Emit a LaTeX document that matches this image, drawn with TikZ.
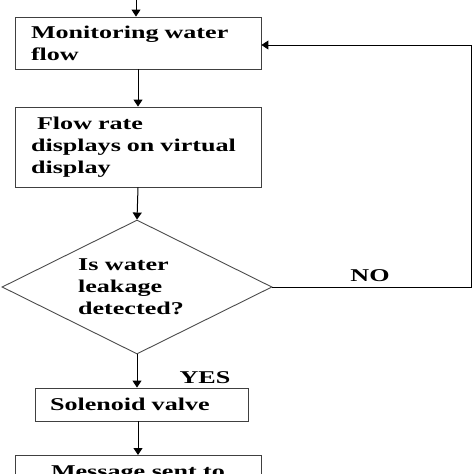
\documentclass[tikz,border=0pt]{standalone}
\usepackage{fontspec}
\setmainfont{Liberation Serif}[FakeStretch=1.45]
\usetikzlibrary{shapes.geometric,arrows.meta}
\begin{document}
\begin{tikzpicture}[x=1pt,y=-1pt,
  every node/.style={font=\bfseries\fontsize{18}{22}\selectfont},
  procbox/.style={draw=black!75,line width=0.9pt,rectangle,align=left,inner ysep=3pt},
  decbox/.style={draw=black!70,line width=0.9pt,diamond,aspect=2,minimum width=270pt,minimum height=134pt,inner sep=0pt,align=left},
  flow/.style={draw=black,line width=1pt,-{Triangle[length=7pt,width=9pt]}},
  lbl/.style={inner sep=0pt}]
\useasboundingbox (0,0) rectangle (474,474);
\clip (0,0) rectangle (474,474);
\fill[white] (0,0) rectangle (474,474);
\coordinate (start) at (136,-4);
\node[procbox,minimum width=246pt,minimum height=52pt,text width=214pt,inner xsep=16pt] (b1) at (138,43) {Monitoring water\\flow};
\node[procbox,minimum width=246pt,minimum height=80pt,text width=214pt,inner xsep=16pt] (b2) at (138,147) {\hspace*{6pt}Flow rate\\displays on virtual\\display};
\node[decbox] (d) at (137,287) {\hspace*{-12pt}Is water\\\hspace*{-12pt}leakage\\\hspace*{-12pt}detected?};
\node[procbox,minimum width=213pt,minimum height=33pt,text width=183pt,inner xsep=15pt] (b3) at (141.5,404.5) {Solenoid valve};
\node[procbox,anchor=north,minimum width=246pt,inner ysep=10pt,align=center] (b4) at (138,455) {Message sent to};
\coordinate (c1) at (471,45);
\draw[flow] (start) -- (start|-b1.north);
\draw[flow] (b1.south) -- (b2.north);
\draw[flow] (b2.south) -- (d.north);
\draw[flow] (d.south) -- (d.south|-b3.north);
\draw[flow] (b3.south-|b4.north) -- (b4.north);
\draw[flow] (d.east) -| (c1) -- (b1.east|-c1);
\node[lbl] (no) at (370,276) {NO};
\node[lbl] (yes) at (205,378) {YES};
\end{tikzpicture}
\end{document}
